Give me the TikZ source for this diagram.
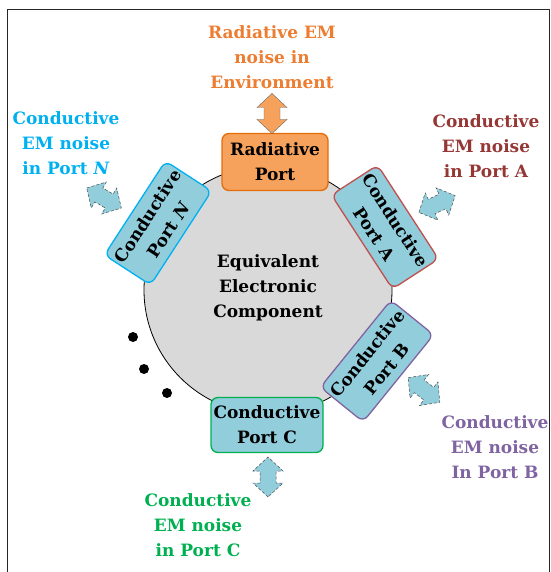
\documentclass[tikz,border=0pt]{standalone}
\usepackage{fontspec}
\setmainfont{DejaVu Serif}
\usetikzlibrary{positioning}
\definecolor{portblue}{RGB}{146,205,220}
\definecolor{radorange}{RGB}{246,162,92}
\definecolor{raddark}{RGB}{228,108,10}
\definecolor{radtext}{RGB}{236,125,49}
\definecolor{ncyan}{RGB}{0,176,240}
\definecolor{ared}{RGB}{149,55,53}
\definecolor{aborder}{RGB}{192,80,77}
\definecolor{bpurple}{RGB}{128,100,162}
\definecolor{cgreen}{RGB}{0,176,80}
\definecolor{compgray}{RGB}{217,217,217}
\tikzset{
  txt/.style={font=\fontsize{17}{25}\selectfont\bfseries, align=center},
  port/.style={txt, draw=#1, fill=portblue, line width=1.3pt, rounded corners=7pt,
    minimum width=112pt, minimum height=55pt, inner sep=0pt},
  noisearrow/.style={fill=portblue, draw=black!70, densely dashed, line width=0.5pt},
  dblarrow/.pic={
    \path[pic actions] (-20,0) -- (-6,-15) -- (-6,-8) -- (6,-8) -- (6,-15)
      -- (20,0) -- (6,15) -- (6,8) -- (-6,8) -- (-6,15) -- cycle;}
}
\begin{document}
\begin{tikzpicture}[x=1pt,y=-1pt]
  \useasboundingbox (0,0) rectangle (550,572);
  \draw[black!85, line width=1pt] (7,572) -- (7,9.5) -- (549,9.5) -- (549,572);
  % component
  \node[circle, draw, fill=compgray, minimum size=248pt, line width=0.8pt] (comp) at (268,290) {};
  \node[txt] (comptxt) at (268,288) {Equivalent\\Electronic\\Component};
  % ports
  \node[port=raddark, fill=radorange, minimum width=106pt, minimum height=57pt] (rad) at (275,162) {Radiative\\Port};
  \node[port=ncyan, rotate=57] (portN) at (158,223) {Conductive\\Port \textit{N}};
  \node[port=aborder, rotate=-57] (portA) at (385,227) {Conductive\\Port A};
  \node[port=bpurple, rotate=51] (portB) at (377,361) {Conductive\\Port B};
  \node[port=cgreen] (portC) at (267,425) {Conductive\\Port C};
  % noise labels
  \node[txt, text=radtext] (radnoise) at (272,57) {Radiative EM\\noise in\\Environment};
  \node[txt, text=ncyan] (noiseN) at (66,143) {Conductive\\EM noise\\in Port \textit{N}};
  \node[txt, text=ared] (noiseA) at (486,146) {Conductive\\EM noise\\in Port A};
  \node[txt, text=bpurple] (noiseB) at (495,447) {Conductive\\EM noise\\In Port B};
  \node[txt, text=cgreen] (noiseC) at (198,525) {Conductive\\EM noise\\in Port C};
  % arrows
  \pic[fill=radorange, draw=black!60, line width=0.4pt, rotate=90] at (272,113.5) {dblarrow};
  \pic[noisearrow, rotate=-30] at (104,198) {dblarrow};
  \pic[noisearrow, rotate=25] at (437,204) {dblarrow};
  \pic[noisearrow, rotate=-38] at (424,390) {dblarrow};
  \pic[noisearrow, rotate=90] at (268,477) {dblarrow};
  % more ports
  \foreach \p in {(133,337),(144,369),(167,393)}
    \fill \p circle (5);
\end{tikzpicture}
\end{document}
